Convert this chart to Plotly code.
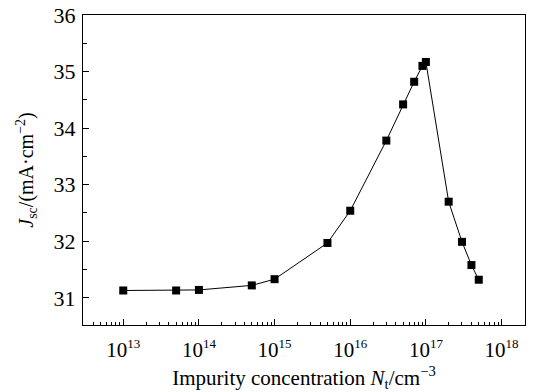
import plotly.graph_objects as go

nt = [1e13, 5e13, 1e14, 5e14, 1e15, 5e15, 1e16, 3e16, 5e16, 7e16, 9e16, 1e17, 2e17, 3e17, 4e17, 5e17]
jsc = [31.13, 31.13, 31.14, 31.22, 31.33, 31.97, 32.54, 33.78, 34.42, 34.82, 35.10, 35.17, 32.70, 31.99, 31.58, 31.32]

xtickvals = [1e13, 1e14, 1e15, 1e16, 1e17, 1e18]
xexps = ["13", "14", "15", "16", "17", "18"]
xticktext = ["10<sup><span style='font-size:13px'>%s</span></sup>" % e for e in xexps]
ytickvals = [31, 32, 33, 34, 35, 36]
xminor = [m * 10 ** d for d in range(12, 19) for m in range(2, 10)]

font = "Liberation Serif, Times New Roman, serif"

fig = go.Figure()
fig.add_trace(go.Scatter(
    x=nt, y=jsc, mode="lines+markers",
    line=dict(color="black", width=1),
    marker=dict(symbol="square", size=8, color="black"),
    showlegend=False,
))

fig.update_layout(
    width=540, height=392,
    margin=dict(l=83, r=15, t=15, b=67),
    paper_bgcolor="white", plot_bgcolor="white",
    font=dict(family=font, size=21, color="black"),
)
fig.update_xaxes(
    type="log", range=[12.468, 18.31], automargin=False,
    tickmode="array", tickvals=xtickvals, ticktext=xticktext,
    ticks="inside", ticklen=6, tickwidth=1.2, tickcolor="black",
    minor=dict(tickmode="array", tickvals=xminor, ticks="inside", ticklen=3, tickwidth=1, tickcolor="black", showgrid=False),
    showline=True, linecolor="black", linewidth=1.2, mirror=True,
    showgrid=False, zeroline=False,
    tickfont=dict(size=21),
    ticklabelstandoff=6,
    title=dict(text="Impurity concentration <i>N</i><sub>t</sub>/cm<sup>−3</sup>", font=dict(size=21), standoff=10),
)
fig.update_yaxes(
    range=[30.52, 36], automargin=False,
    tickvals=ytickvals,
    ticks="inside", ticklen=6, tickwidth=1.2, tickcolor="black",
    minor=dict(ticks="inside", ticklen=4, tickwidth=1, tickcolor="black", dtick=0.5, showgrid=False),
    showline=True, linecolor="black", linewidth=1.2, mirror=True,
    showgrid=False, zeroline=False,
    tickfont=dict(size=22),
    ticklabelstandoff=2,
    title=dict(text="<i>J</i><sub>sc</sub>/(mA·cm<sup>−2</sup>)", font=dict(size=20), standoff=14),
)

fig.write_html("out.html")
